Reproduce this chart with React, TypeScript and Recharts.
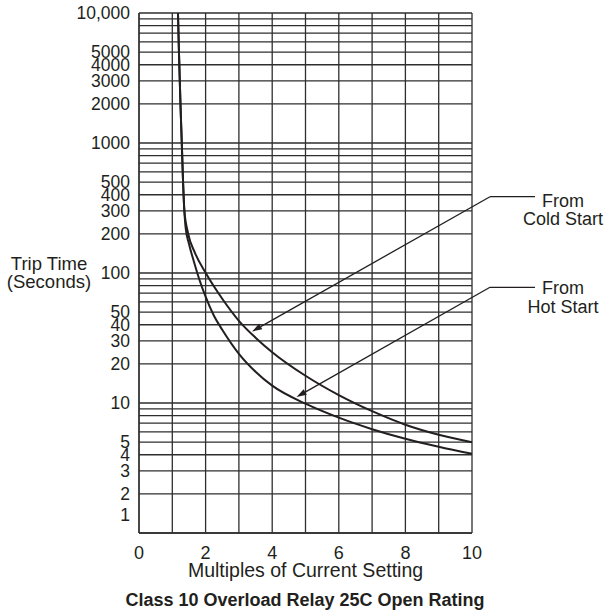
import { LineChart, Line, XAxis, YAxis, CartesianGrid } from 'recharts'

// trip curves (x = multiples of setting, y = seconds)
const coldStart = [
  { x: 1.17, y: 10000 },
  { x: 1.2, y: 5000 },
  { x: 1.245, y: 2000 },
  { x: 1.285, y: 1000 },
  { x: 1.323, y: 500 },
  { x: 1.36, y: 307 },
  { x: 1.47, y: 204 },
  { x: 1.68, y: 143 },
  { x: 2, y: 100.5 },
  { x: 2.5, y: 63.4 },
  { x: 3, y: 42.9 },
  { x: 3.5, y: 31.8 },
  { x: 4, y: 24.6 },
  { x: 5, y: 16.2 },
  { x: 6, y: 11.5 },
  { x: 7, y: 8.65 },
  { x: 8, y: 6.81 },
  { x: 9, y: 5.7 },
  { x: 10, y: 4.99 },
]

const hotStart = [
  { x: 1.17, y: 10000 },
  { x: 1.2, y: 5000 },
  { x: 1.245, y: 2000 },
  { x: 1.285, y: 1000 },
  { x: 1.323, y: 500 },
  { x: 1.36, y: 307 },
  { x: 1.4, y: 223 },
  { x: 1.5, y: 168 },
  { x: 1.65, y: 122 },
  { x: 1.8, y: 91.2 },
  { x: 2, y: 65.7 },
  { x: 2.25, y: 46.9 },
  { x: 2.5, y: 36.6 },
  { x: 3, y: 23.9 },
  { x: 3.5, y: 17.4 },
  { x: 4, y: 13.6 },
  { x: 5, y: 9.88 },
  { x: 6, y: 7.71 },
  { x: 7, y: 6.29 },
  { x: 8, y: 5.31 },
  { x: 9, y: 4.61 },
  { x: 10, y: 4.07 },
]

const X_TICKS = [0, 1, 2, 3, 4, 5, 6, 7, 8, 9, 10]
const X_LABELS = [0, 2, 4, 6, 8, 10]

const Y_GRID = [
  1, 2, 3, 4, 5, 6, 7, 8, 9,
  10, 20, 30, 40, 50, 60, 70, 80, 90,
  100, 200, 300, 400, 500, 600, 700, 800, 900,
  1000, 2000, 3000, 4000, 5000, 6000, 7000, 8000, 9000,
  10000,
]
const Y_LABELS = [1, 2, 3, 4, 5, 10, 20, 30, 40, 50, 100, 200, 300, 400, 500, 1000, 2000, 3000, 4000, 5000, 10000]

const INK = '#231f20'
const GRID = '#2e2e2e'
const FONT = '"Liberation Sans", Arial, Helvetica, sans-serif'

const YTick = (props: any) => {
  const { x, y, payload } = props
  const v = payload.value
  if (!Y_LABELS.includes(v)) return null
  const label = v === 10000 ? '10,000' : String(v)
  // the "1" label sits above the bottom line in the original
  const shift = v === 1 ? -18 : 0
  return (
    <text x={x} y={y + shift} dy="0.36em" textAnchor="end" fontSize={17.5} fill={INK} fontFamily={FONT}>
      {label}
    </text>
  )
}

const XTick = (props: any) => {
  const { x, y, payload } = props
  if (!X_LABELS.includes(payload.value)) return null
  return (
    <text x={x} y={y + 26} textAnchor="middle" fontSize={18} fill={INK} fontFamily={FONT}>
      {payload.value}
    </text>
  )
}

function Leader({ x1, y1, x2, y2, hx }: { x1: number; y1: number; x2: number; y2: number; hx: number }) {
  const dx = x2 - x1
  const dy = y2 - y1
  const len = Math.sqrt(dx * dx + dy * dy)
  const ux = dx / len
  const uy = dy / len
  const L = 10
  const W = 3.2
  const bx = x2 - ux * L
  const by = y2 - uy * L
  const pts = `${x2},${y2} ${bx - uy * W},${by + ux * W} ${bx + uy * W},${by - ux * W}`
  return (
    <g>
      <line x1={hx} y1={y1} x2={x1} y2={y1} stroke={INK} strokeWidth={1.3} />
      <line x1={x1} y1={y1} x2={bx} y2={by} stroke={INK} strokeWidth={1.3} />
      <polygon points={pts} fill={INK} />
    </g>
  )
}

export default function App() {
  return (
    <div style={{ position: 'absolute', left: 0, top: 0, width: 608, height: 611, background: '#fff' }}>
      <LineChart width={608} height={611} margin={{ top: 13, right: 136, bottom: 48, left: 0 }}>
        <CartesianGrid stroke={GRID} strokeWidth={1.3} />
        <XAxis
          dataKey="x"
          type="number"
          domain={[0, 10]}
          ticks={X_TICKS}
          interval={0}
          height={30}
          tickSize={0}
          tickMargin={0}
          tick={<XTick />}
          axisLine={{ stroke: GRID, strokeWidth: 1.3 }}
          tickLine={false}
        />
        <YAxis
          dataKey="y"
          type="number"
          scale="log"
          domain={[1, 10000]}
          ticks={Y_GRID}
          interval={0}
          width={139}
          tickSize={0}
          tickMargin={9}
          tick={<YTick />}
          axisLine={{ stroke: GRID, strokeWidth: 1.3 }}
          tickLine={false}
          allowDataOverflow
        />
        <Line data={coldStart} dataKey="y" type="monotone" stroke={INK} strokeWidth={2} dot={false} isAnimationActive={false} />
        <Line data={hotStart} dataKey="y" type="monotone" stroke={INK} strokeWidth={2} dot={false} isAnimationActive={false} />
      </LineChart>

      <svg width={608} height={611} style={{ position: 'absolute', left: 0, top: 0, pointerEvents: 'none' }}>
        <g fontFamily={FONT} fill={INK}>
          <text x={49} y={269.5} textAnchor="middle" fontSize={18.5}>Trip Time</text>
          <text x={49} y={288} textAnchor="middle" fontSize={18.5}>(Seconds)</text>
          <text x={305.5} y={577} textAnchor="middle" fontSize={19.5}>Multiples of Current Setting</text>
          <text x={305} y={606} textAnchor="middle" fontSize={18} fontWeight="bold">
            Class 10 Overload Relay 25C Open Rating
          </text>
          <text x={563} y={207} textAnchor="middle" fontSize={18}>From</text>
          <text x={563} y={225} textAnchor="middle" fontSize={18}>Cold Start</text>
          <text x={563} y={294} textAnchor="middle" fontSize={18}>From</text>
          <text x={563} y={312.5} textAnchor="middle" fontSize={18}>Hot Start</text>
        </g>
        <Leader x1={490} y1={196.7} x2={252} y2={331.5} hx={535} />
        <Leader x1={490} y1={287.3} x2={296.5} y2={397} hx={535} />
      </svg>
    </div>
  )
}
